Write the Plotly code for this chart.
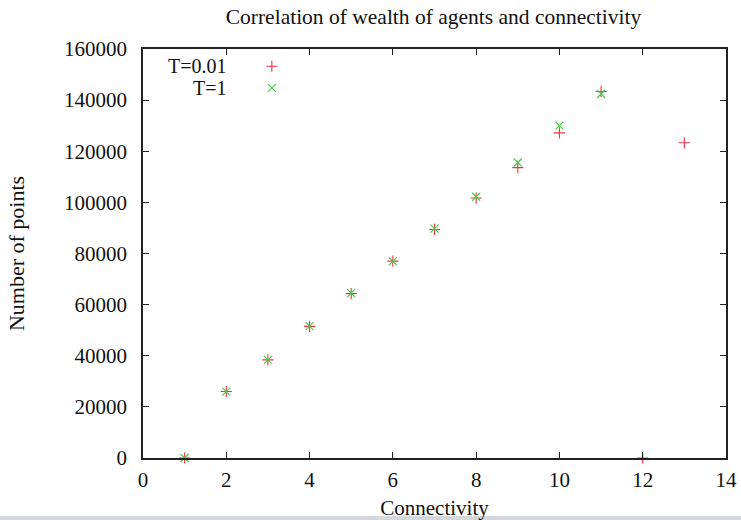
import plotly.graph_objects as go

# Connectivity values and number of points per temperature setting
conn_t001 = [1, 2, 3, 4, 5, 6, 7, 8, 9, 10, 11, 12, 13]
points_t001 = [0, 26000, 38400, 51500, 64300, 77000, 89400, 101700, 113600, 127200, 143400, 0, 123300]

conn_t1 = [1, 2, 3, 4, 5, 6, 7, 8, 9, 10, 11]
points_t1 = [0, 26000, 38400, 51600, 64500, 76900, 89700, 102200, 115600, 130000, 142400]

series_names = ["T=0.01", "T=1"]
red = "#ee3344"
green = "#44cc44"

x_ticks = [0, 2, 4, 6, 8, 10, 12, 14]
y_ticks = [0, 20000, 40000, 60000, 80000, 100000, 120000, 140000, 160000]

serif = "Liberation Serif"
ink = "#111111"

fig = go.Figure()

fig.add_trace(go.Scatter(
    x=conn_t001, y=points_t001, mode="markers", name=series_names[0],
    marker=dict(symbol="cross-thin", size=8, line=dict(color=red, width=1.1)),
    cliponaxis=False, showlegend=False,
))
fig.add_trace(go.Scatter(
    x=conn_t1, y=points_t1, mode="markers", name=series_names[1],
    marker=dict(symbol="x-thin", size=8, line=dict(color=green, width=1.1)),
    cliponaxis=False, showlegend=False,
))

# Key in the upper-left corner: right-aligned labels with samples to the right
key_y = [0.958, 0.905]
fig.add_trace(go.Scatter(
    x=[0.221], y=[key_y[0]], xaxis="x2", yaxis="y2", mode="markers",
    marker=dict(symbol="cross-thin", size=8, line=dict(color=red, width=1.1)),
    showlegend=False, hoverinfo="skip",
))
fig.add_trace(go.Scatter(
    x=[0.221], y=[key_y[1]], xaxis="x2", yaxis="y2", mode="markers",
    marker=dict(symbol="x-thin", size=8, line=dict(color=green, width=1.1)),
    showlegend=False, hoverinfo="skip",
))
for name, ky in zip(series_names, key_y):
    fig.add_annotation(
        x=0.147, y=ky, xref="x2", yref="y2", text=name, showarrow=False,
        xanchor="right", yanchor="middle",
        font=dict(family=serif, size=20, color=ink),
    )

axis_common = dict(
    showgrid=False, zeroline=False, showline=True, linecolor="#222222",
    linewidth=1.5, mirror="ticks", ticks="inside", ticklen=6,
    tickcolor="#222222", tickwidth=1, automargin=False,
    tickfont=dict(family=serif, size=21, color=ink),
)

fig.update_layout(
    width=741, height=520,
    margin=dict(l=143, r=15, t=49, b=62),
    paper_bgcolor="white", plot_bgcolor="white",
    title=dict(
        text="Correlation of wealth of agents and connectivity",
        x=0.585, xanchor="center", y=0.968, yanchor="middle",
        font=dict(family=serif, size=21.5, color=ink),
        automargin=False,
    ),
    xaxis=dict(
        range=[0, 14], tickvals=x_ticks, ticktext=[str(v) for v in x_ticks],
        ticklabelstandoff=2,
        title=dict(text="Connectivity", font=dict(family=serif, size=21, color=ink),
                   standoff=24),
        **axis_common,
    ),
    yaxis=dict(
        range=[0, 160000], tickvals=y_ticks, ticktext=[str(v) for v in y_ticks],
        ticklabelstandoff=10,
        title=dict(text="Number of points", font=dict(family=serif, size=22, color=ink),
                   standoff=33),
        **axis_common,
    ),
    xaxis2=dict(range=[0, 1], overlaying="x", visible=False, fixedrange=True),
    yaxis2=dict(range=[0, 1], overlaying="y", visible=False, fixedrange=True),
    shapes=[dict(
        type="rect", xref="paper", yref="paper",
        x0=-0.4, x1=1.1, y0=-0.1418, y1=-0.17,
        fillcolor="#d4d8dc", line=dict(width=0), layer="above",
    )],
)

fig.write_html("out.html")
